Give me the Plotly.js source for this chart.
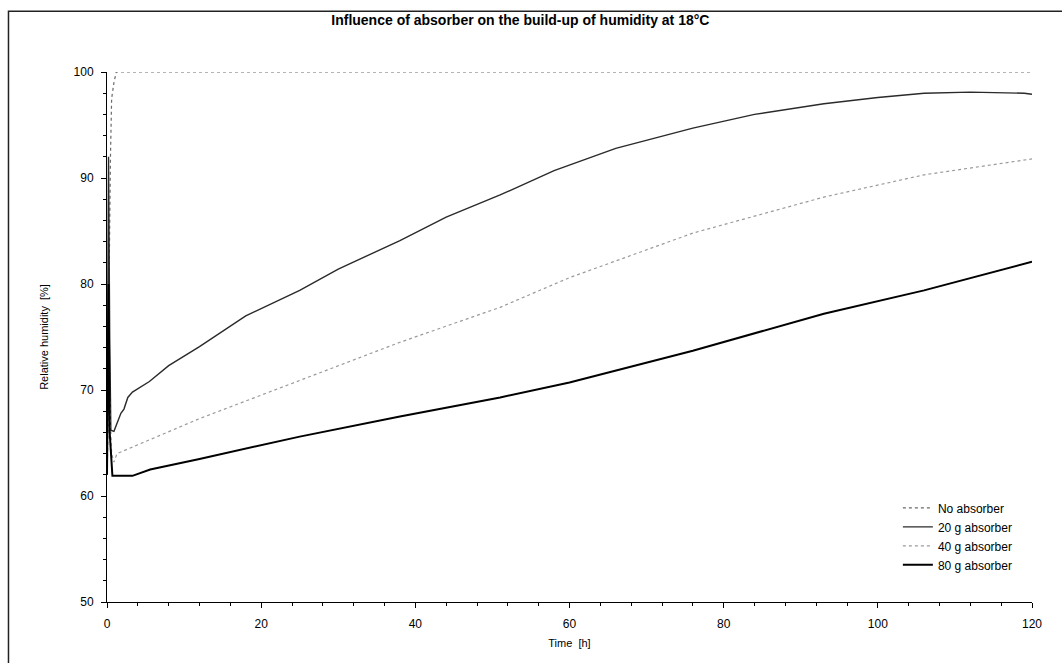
<!DOCTYPE html>
<html>
<head>
<meta charset="utf-8">
<script src="https://cdn.plot.ly/plotly-3.0.1.min.js"></script>
<style>html,body{margin:0;padding:0;background:#fff;}#chart{width:1062px;height:663px;}</style>
</head>
<body>
<div id="chart"></div>
<script>
// Time [h] and relative humidity [%]
const tNone = [0, 0.15, 0.3, 0.45, 0.6, 0.9, 1.2, 10, 30, 60, 90, 120];
const rhNone = [62, 72, 85, 92, 97.5, 99, 100, 100, 100, 100, 100, 100];

const t20 = [0, 0.2, 0.35, 0.5, 0.9, 1.3, 1.8, 2.2, 2.7, 3.3, 5.5, 8, 12, 18, 25, 30, 38, 44, 51, 58, 66, 76, 84, 93, 100, 106, 112, 119, 120];
const rh20 = [62, 92, 75, 66.2, 66.1, 66.8, 67.8, 68.2, 69.3, 69.8, 70.8, 72.3, 74.1, 77.0, 79.4, 81.4, 84.1, 86.3, 88.4, 90.7, 92.8, 94.7, 96.0, 97.0, 97.6, 98.0, 98.1, 98.0, 97.9];

const t40 = [0, 0.3, 0.6, 0.9, 1.3, 5.6, 12, 25, 38, 51, 60, 76, 93, 106, 120];
const rh40 = [62, 70, 64, 63.2, 64.0, 65.3, 67.3, 70.9, 74.5, 77.8, 80.6, 84.8, 88.2, 90.3, 91.8];

const t80 = [0, 0.2, 0.35, 0.7, 3.3, 5.6, 12, 25, 38, 51, 60, 76, 93, 106, 120];
const rh80 = [62, 80, 66, 61.9, 61.9, 62.5, 63.5, 65.6, 67.5, 69.3, 70.7, 73.7, 77.2, 79.4, 82.1];

const seriesNames = ["No absorber", "20 g absorber", "40 g absorber", "80 g absorber"];
const yTicks = [50, 60, 70, 80, 90, 100];
const xTicks = [0, 20, 40, 60, 80, 100, 120];

const font = "Liberation Sans, Arial, sans-serif";

const traces = [
  {x: tNone, y: rhNone, name: seriesNames[0], mode: "lines", line: {color: "#6a6a6a", width: 1.2, dash: "dot"}},
  {x: t20, y: rh20, name: seriesNames[1], mode: "lines", line: {color: "#2a2a2a", width: 1.4}},
  {x: t40, y: rh40, name: seriesNames[2], mode: "lines", line: {color: "#9a9a9a", width: 1.2, dash: "dot"}},
  {x: t80, y: rh80, name: seriesNames[3], mode: "lines", line: {color: "#000000", width: 2}}
];

const layout = {
  width: 1062, height: 663,
  paper_bgcolor: "#fff", plot_bgcolor: "#fff",
  margin: {l: 106.5, r: 30.3, t: 71.7, b: 61.3},
  font: {family: font, color: "#000", size: 12},
  showlegend: true,
  title: {text: "<b>Influence of absorber on the build-up of humidity at 18°C</b>",
          font: {family: font, size: 14, color: "#000"},
          x: 0.49, xanchor: "center", y: 0.97, yanchor: "middle", xref: "container", yref: "container"},
  xaxis: {
    range: [0, 120], tickvals: xTicks, ticktext: xTicks.map(String),
    showgrid: false, zeroline: false, showline: true, linecolor: "#000", linewidth: 1,
    ticks: "outside", ticklen: 5, tickcolor: "#000", ticklabelstandoff: 6,
    minor: {dtick: 4, ticks: "outside", ticklen: 3, tickcolor: "#000", showgrid: false},
    tickfont: {family: font, size: 12},
    title: {text: "Time  [h]", font: {family: font, size: 11}, standoff: 8}
  },
  yaxis: {
    range: [50, 100], tickvals: yTicks, ticktext: yTicks.map(String),
    showgrid: false, zeroline: false, showline: true, linecolor: "#000", linewidth: 1,
    ticks: "outside", ticklen: 5, tickcolor: "#000", ticklabelstandoff: 5,
    minor: {dtick: 2, ticks: "outside", ticklen: 3, tickcolor: "#000", showgrid: false},
    tickfont: {family: font, size: 12},
    title: {text: "Relative humidity  [%]", font: {family: font, size: 11}, standoff: 22}
  },
  legend: {x: 0.855, xanchor: "left", y: 0.205, yanchor: "top",
           font: {family: font, size: 12, color: "#000"},
           bgcolor: "rgba(255,255,255,0)", borderwidth: 0, itemwidth: 30, tracegroupgap: 0},
  shapes: [
    {type: "rect", xref: "paper", yref: "paper", x0: -0.1065, x1: 1.2, y0: -0.3, y1: 1.1145,
     line: {color: "#222", width: 1.5}, fillcolor: "rgba(0,0,0,0)", layer: "below"}
  ]
};

Plotly.newPlot("chart", traces, layout, {displayModeBar: false, staticPlot: true});
</script>
</body>
</html>
